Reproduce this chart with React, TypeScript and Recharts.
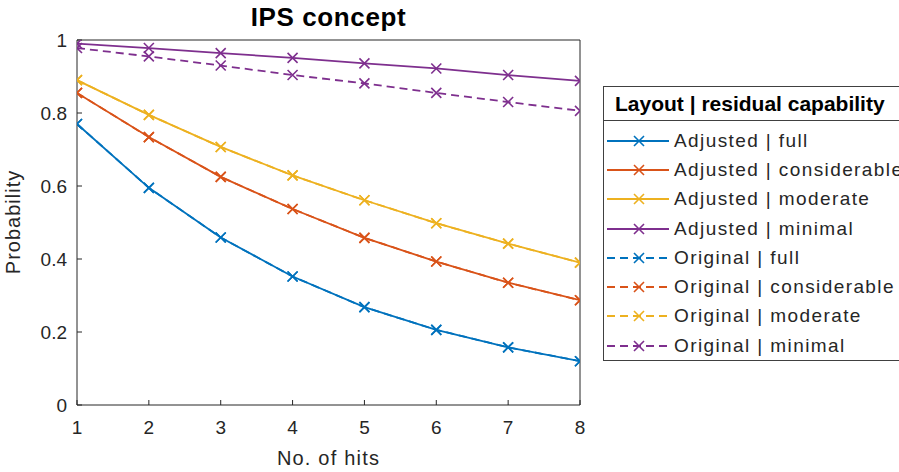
import React from "react"
import { LineChart, Line, XAxis, YAxis, Legend, Label } from "recharts"

const xValues = [1, 2, 3, 4, 5, 6, 7, 8]
const adjustedFull = [0.77, 0.595, 0.459, 0.352, 0.268, 0.206, 0.158, 0.12]
const adjustedConsiderable = [0.855, 0.734, 0.625, 0.537, 0.458, 0.393, 0.335, 0.287]
const adjustedModerate = [0.89, 0.795, 0.707, 0.629, 0.561, 0.498, 0.442, 0.39]
const adjustedMinimal = [0.99, 0.978, 0.964, 0.951, 0.936, 0.922, 0.904, 0.888]
const originalFull = [0.77, 0.595, 0.459, 0.352, 0.268, 0.206, 0.158, 0.12]
const originalConsiderable = [0.855, 0.734, 0.625, 0.537, 0.458, 0.393, 0.335, 0.287]
const originalModerate = [0.89, 0.795, 0.707, 0.629, 0.561, 0.498, 0.442, 0.39]
const originalMinimal = [0.978, 0.955, 0.93, 0.904, 0.881, 0.855, 0.83, 0.806]

const xTicks = [1, 2, 3, 4, 5, 6, 7, 8]
const yTicks = [0, 0.2, 0.4, 0.6, 0.8, 1]

const FONT = "'Liberation Sans', Arial, Helvetica, sans-serif"
const AXIS = "#262626"

const series = [
  { key: "adjFull", name: "Adjusted | full", values: adjustedFull, color: "#0072BD", dashed: false },
  { key: "adjCons", name: "Adjusted | considerable", values: adjustedConsiderable, color: "#D95319", dashed: false },
  { key: "adjMod", name: "Adjusted | moderate", values: adjustedModerate, color: "#EDB120", dashed: false },
  { key: "adjMin", name: "Adjusted | minimal", values: adjustedMinimal, color: "#7E2F8E", dashed: false },
  { key: "origFull", name: "Original | full", values: originalFull, color: "#0072BD", dashed: true },
  { key: "origCons", name: "Original | considerable", values: originalConsiderable, color: "#D95319", dashed: true },
  { key: "origMod", name: "Original | moderate", values: originalModerate, color: "#EDB120", dashed: true },
  { key: "origMin", name: "Original | minimal", values: originalMinimal, color: "#7E2F8E", dashed: true },
]

const data = xValues.map((x, i) => {
  const row: Record<string, number> = { x }
  series.forEach((s) => {
    row[s.key] = s.values[i]
  })
  return row
})

const DASH = "8 5"

// x-shaped marker like matlab's 'x'
const xMarker = (color: string) => (props: any) => {
  const { cx, cy, index } = props
  if (cx == null || cy == null) return <g key={`m-${index}`} />
  const r = 5
  return (
    <path
      key={`m-${index}`}
      d={`M${cx - r},${cy - r}L${cx + r},${cy + r}M${cx - r},${cy + r}L${cx + r},${cy - r}`}
      stroke={color}
      strokeWidth={1.6}
      fill="none"
    />
  )
}

function LegendBox() {
  return (
    <div
      style={{
        background: "#fff",
        border: "1px solid #404040",
        fontFamily: FONT,
        color: "#000",
        width: 320,
        boxSizing: "border-box",
      }}
    >
      <div
        style={{
          height: 33,
          lineHeight: "33px",
          borderBottom: "1px solid #404040",
          fontWeight: "bold",
          fontSize: 21,
          paddingLeft: 11,
          whiteSpace: "nowrap",
        }}
      >
        Layout | residual capability
      </div>
      <div style={{ paddingTop: 5 }}>
        {series.map((s) => (
          <div key={s.key} style={{ height: 29.3, display: "flex", alignItems: "center", whiteSpace: "nowrap" }}>
            <svg width={68} height={20} style={{ flex: "none" }}>
              <line
                x1={3}
                y1={10}
                x2={65}
                y2={10}
                stroke={s.color}
                strokeWidth={1.8}
                strokeDasharray={s.dashed ? DASH : undefined}
              />
              <path d="M30,5L40,15M30,15L40,5" stroke={s.color} strokeWidth={1.6} fill="none" />
            </svg>
            <span style={{ fontSize: 19, letterSpacing: 1.4, color: "#262626", marginLeft: 2 }}>{s.name}</span>
          </div>
        ))}
      </div>
    </div>
  )
}

const YLabel = () => {
  return (
    <text
      x={20}
      y={222}
      transform="rotate(-90, 20, 222)"
      textAnchor="middle"
      fontSize={20}
      letterSpacing={1}
      fontFamily={FONT}
      fill={AXIS}
    >
      Probability
    </text>
  )
}

export default function App() {
  return (
    <div style={{ position: "absolute", left: 0, top: 0, width: 899, height: 472, overflow: "hidden", background: "#fff" }}>
      <LineChart width={899} height={472} data={data} margin={{ top: 39, right: 318, bottom: 0, left: 0 }}>
        <XAxis
          dataKey="x"
          type="number"
          domain={[1, 8]}
          ticks={xTicks}
          allowDataOverflow
          height={67}
          stroke={AXIS}
          tickSize={-5}
          tickMargin={21}
          tick={{ fill: AXIS, fontSize: 19, fontFamily: FONT }}
        >
          <Label
            value="No. of hits"
            position="insideBottom"
            offset={7}
            style={{ fontSize: 20, letterSpacing: 1.2, fontFamily: FONT, fill: AXIS }}
          />
        </XAxis>
        <XAxis
          xAxisId="top"
          orientation="top"
          type="number"
          dataKey="x"
          domain={[1, 8]}
          ticks={xTicks}
          allowDataOverflow
          height={1}
          stroke={AXIS}
          tickSize={-5}
          tick={false}
        >
          <Label
            value="IPS concept"
            position="top"
            offset={13}
            style={{ fontSize: 26, fontWeight: "bold", letterSpacing: 0.6, fontFamily: FONT, fill: "#000" }}
          />
        </XAxis>
        <YAxis
          type="number"
          domain={[0, 1]}
          ticks={yTicks}
          allowDataOverflow
          width={77}
          stroke={AXIS}
          tickSize={-5}
          tickMargin={15}
          tick={{ fill: AXIS, fontSize: 19, fontFamily: FONT }}
          label={<YLabel />}
        />
        <YAxis
          yAxisId="right"
          orientation="right"
          type="number"
          domain={[0, 1]}
          ticks={yTicks}
          allowDataOverflow
          width={1}
          stroke={AXIS}
          tickSize={-5}
          tick={false}
        />
        {series.map((s) => (
          <Line
            key={s.key}
            dataKey={s.key}
            name={s.name}
            stroke={s.color}
            strokeWidth={1.8}
            strokeDasharray={s.dashed ? DASH : undefined}
            dot={xMarker(s.color)}
            activeDot={false}
            isAnimationActive={false}
          />
        ))}
        {/* invisible series so the top and right box axes get drawn */}
        <Line
          xAxisId="top"
          yAxisId="right"
          dataKey="adjFull"
          stroke="none"
          dot={false}
          activeDot={false}
          legendType="none"
          isAnimationActive={false}
        />
        <Legend
          layout="vertical"
          align="center"
          verticalAlign="middle"
          content={() => <LegendBox />}
          wrapperStyle={{ left: 603, top: 86, width: 320 }}
        />
      </LineChart>
    </div>
  )
}
